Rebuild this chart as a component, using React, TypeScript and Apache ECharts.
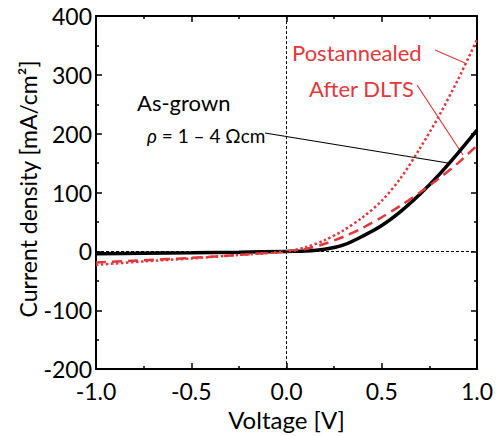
import React, { useEffect, useRef } from "react";
import * as echarts from "echarts";

const voltages = [-1, -0.75, -0.5, -0.25, 0, 0.1, 0.2, 0.3, 0.4, 0.5, 0.6, 0.7, 0.8, 0.9, 1.0];
const asGrown = [-4, -3.2, -2.5, -1.5, 0, 0.5, 3.5, 11, 26, 44, 68, 97, 130, 167, 206];
const afterDLTS = [-19, -15, -11, -6, 0, 4, 13, 25, 40, 58, 78, 100, 124, 150, 180];
const postannealed = [-23, -17, -12, -6, 0, 7, 19, 36, 58, 86, 125, 175, 230, 292, 360];

const xTicks = [-1.0, -0.5, 0.0, 0.5, 1.0];
const yTicks = [-200, -100, 0, 100, 200, 300, 400];

const RED = "#e0383d";
const FONT = "Lato";

function pairs(ys: number[]) {
  return voltages.map((v, i) => [v, ys[i]]);
}

export default function App() {
  const ref = useRef<HTMLDivElement>(null);
  useEffect(() => {
    if (!ref.current) return;
    const chart = echarts.init(ref.current, null, { renderer: "svg" });
    const axisCommon = {
      axisLine: { show: true, onZero: false, lineStyle: { color: "#000", width: 2 } },
      axisTick: { show: true, inside: true, length: 6, lineStyle: { color: "#000", width: 1.5 } },
      minorTick: { show: true, splitNumber: 2, length: 3, lineStyle: { color: "#000", width: 1.5 } },
      splitLine: { show: false },
      minorSplitLine: { show: false },
    };
    chart.setOption({
      animation: false,
      textStyle: { fontFamily: FONT },
      grid: { left: 96, right: 21, top: 16, bottom: 62, containLabel: false },
      xAxis: [
        {
          type: "value",
          min: xTicks[0],
          max: xTicks[xTicks.length - 1],
          interval: 0.5,
          position: "bottom",
          ...axisCommon,
          axisLabel: {
            color: "#000",
            fontSize: 23,
            fontFamily: FONT,
            margin: 10,
            formatter: (v: number) => v.toFixed(1),
          },
          name: "Voltage [V]",
          nameLocation: "middle",
          nameGap: 35,
          nameTextStyle: { color: "#000", fontSize: 24, fontFamily: FONT },
        },
        {
          type: "value",
          min: xTicks[0],
          max: xTicks[xTicks.length - 1],
          interval: 0.5,
          position: "top",
          ...axisCommon,
          axisLabel: { show: false },
        },
      ],
      yAxis: [
        {
          type: "value",
          min: yTicks[0],
          max: yTicks[yTicks.length - 1],
          interval: 100,
          position: "left",
          ...axisCommon,
          axisLabel: { color: "#000", fontSize: 23, fontFamily: FONT, margin: 4 },
        },
        {
          type: "value",
          min: yTicks[0],
          max: yTicks[yTicks.length - 1],
          interval: 100,
          position: "right",
          ...axisCommon,
          axisLabel: { show: false },
        },
      ],
      series: [
        {
          name: "ref",
          type: "line",
          data: [],
          silent: true,
          markLine: {
            symbol: "none",
            silent: true,
            label: { show: false },
            lineStyle: { color: "#000", width: 1, type: [3, 2] },
            data: [{ xAxis: 0 }, { yAxis: 0 }],
          },
        },
        {
          name: "Postannealed",
          type: "line",
          data: pairs(postannealed),
          smooth: 0.3,
          showSymbol: false,
          lineStyle: { color: RED, width: 2.5, type: [2.5, 2.5] },
          z: 3,
        },
        {
          name: "After DLTS",
          type: "line",
          data: pairs(afterDLTS),
          smooth: 0.3,
          showSymbol: false,
          lineStyle: { color: RED, width: 2.5, type: [10, 6] },
          z: 4,
        },
        {
          name: "As-grown",
          type: "line",
          data: pairs(asGrown),
          smooth: 0.3,
          showSymbol: false,
          lineStyle: { color: "#000", width: 3.5 },
          z: 2,
        },
      ],
      graphic: [
        {
          type: "text",
          x: 28,
          y: 189,
          rotation: Math.PI / 2,
          style: {
            text: "Current density [mA/cm\u00B2]",
            fill: "#000",
            font: `23px ${FONT}`,
            align: "center",
            verticalAlign: "middle",
          },
        },
        { type: "text", x: 292, y: 52, style: { text: "Postannealed", fill: RED, font: `22px ${FONT}`, verticalAlign: "middle" } },
        { type: "text", x: 309, y: 88, style: { text: "After DLTS", fill: RED, font: `22px ${FONT}`, verticalAlign: "middle" } },
        { type: "text", x: 137, y: 102, style: { text: "As-grown", fill: "#000", font: `22px ${FONT}`, verticalAlign: "middle" } },
        {
          type: "text",
          x: 147,
          y: 135,
          style: {
            text: "{i|\u03C1} = 1 \u2013 4 \u03A9cm",
            fill: "#000",
            font: `19px ${FONT}`,
            verticalAlign: "middle",
            rich: { i: { fontStyle: "italic", fontSize: 19, fontFamily: FONT } },
          },
        },
        { type: "line", shape: { x1: 435, y1: 50, x2: 465, y2: 63 }, style: { stroke: RED, lineWidth: 1.2 } },
        { type: "line", shape: { x1: 417, y1: 85, x2: 463, y2: 155 }, style: { stroke: RED, lineWidth: 1.2 } },
        { type: "line", shape: { x1: 265, y1: 133, x2: 448, y2: 163 }, style: { stroke: "#000", lineWidth: 1.2 } },
      ],
    });
    return () => chart.dispose();
  }, []);
  return <div ref={ref} style={{ width: 498, height: 436, position: "absolute", left: 0, top: 0 }} />;
}
